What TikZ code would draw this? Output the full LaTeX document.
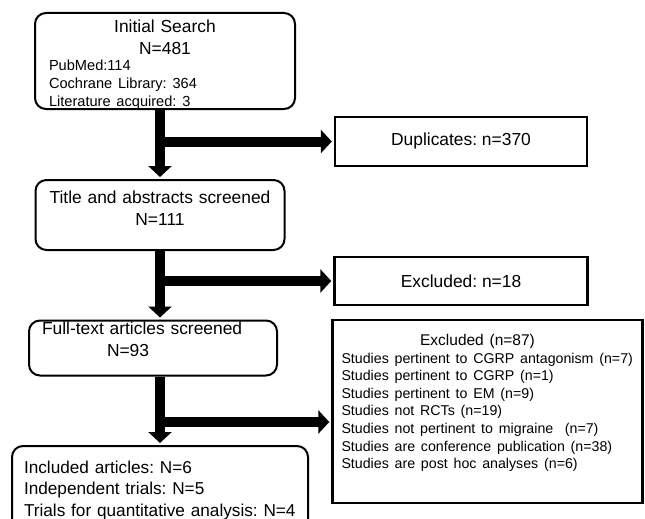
\documentclass[tikz,border=0pt]{standalone}
\usepackage{fontspec}
\setmainfont{Liberation Sans}
\usepackage{tikz}
\usetikzlibrary{arrows.meta}
\frenchspacing
\newcommand{\mainsize}{\fontsize{17.4}{22}\selectfont}
\newcommand{\listsize}{\fontsize{14.2}{17.6}\selectfont}
\tikzstyle{roundbox} = [rectangle, rounded corners=11pt, 
line width=2pt, 
draw=black, 
inner ysep=0pt,
font=\mainsize]
\tikzstyle{squarebox} = [rectangle, 
line width=2.4pt, 
draw=black, 
font=\mainsize]
\tikzstyle{bigarrow} = [line width=10pt, -{Triangle[length=11pt,width=23pt]}, shorten >=2pt]

\begin{document}
\begin{tikzpicture}[x=1pt, y=1pt, node distance=133pt]
		\useasboundingbox (0,0) rectangle (645,-519);

		\node (init) [roundbox, text width=232pt, inner xsep=14pt, text height=20pt, text depth=76pt, align=left] at (165,-61) {\makebox[\hsize]{Initial Search}\\\makebox[\hsize]{N=481}\\[-2pt]{\fontsize{14.6}{18}\selectfont PubMed:114\\Cochrane Library: 364\\Literature acquired: 3\par}};
		
		\node (title) [roundbox, below of=init, xshift=-5pt, yshift=-21pt, text width=229pt, inner xsep=10pt, text height=23pt, text depth=47pt, align=center] {Title and abstracts screened\\N=111};
		
		\node (fulltext) [roundbox, below of=title, xshift=-7pt, text width=222pt, inner xsep=13pt, text height=14pt, text depth=41pt, align=left] {Full-text articles screened\\\hspace*{65pt}N=93};
		
		\node (included) [roundbox, below of=fulltext, xshift=7pt, yshift=-10pt, text width=272pt, inner xsep=12pt, text height=27pt, text depth=63pt, align=left] {\fontsize{17.2}{21.5}\selectfont Included articles: N=6\\Independent trials: N=5\\Trials for quantitative analysis: N=4\par};
		
		\node (dup) [squarebox, right of=init, xshift=163pt, yshift=-80.5pt, minimum width=252pt, minimum height=49pt] {Duplicates: n=370};
		
		\node (exclA) [squarebox, below of=dup, yshift=-6.5pt, minimum width=253pt, minimum height=48pt] {Excluded: n=18};
		
		\node (exclB) [squarebox, below of=exclA, xshift=26.5pt, yshift=2.5pt, text width=292pt, inner xsep=9pt, inner ysep=0pt, text height=25pt, text depth=158pt, align=left] {\listsize\makebox[\hsize]{\fontsize{15.5}{18}\selectfont Excluded (n=87)\hspace*{20pt}}\\[0.4pt]Studies pertinent to CGRP antagonism (n=7)\\Studies pertinent to CGRP (n=1)\\Studies pertinent to EM (n=9)\\Studies not RCTs (n=19)\\Studies not pertinent to migraine\ \ (n=7)\\Studies are conference publication (n=38)\\Studies are post hoc analyses (n=6)\par};

		% main flow
		\draw [bigarrow] (title.north |- init.south) -- (title.north);
		\draw [bigarrow] (title.south) -- (fulltext.north -| title.south);
		\draw [bigarrow] (fulltext.south -| included.north) -- (included.north);
		
		% side branches
		\draw [bigarrow] (dup.west -| title.north) -- (dup.west);
		\draw [bigarrow] (exclA.west -| title.south) -- (exclA.west);
		\draw [bigarrow] ([yshift=-10.5pt]exclB.west -| included.north) -- ([yshift=-10.5pt]exclB.west);
		
	\end{tikzpicture}
\end{document}
